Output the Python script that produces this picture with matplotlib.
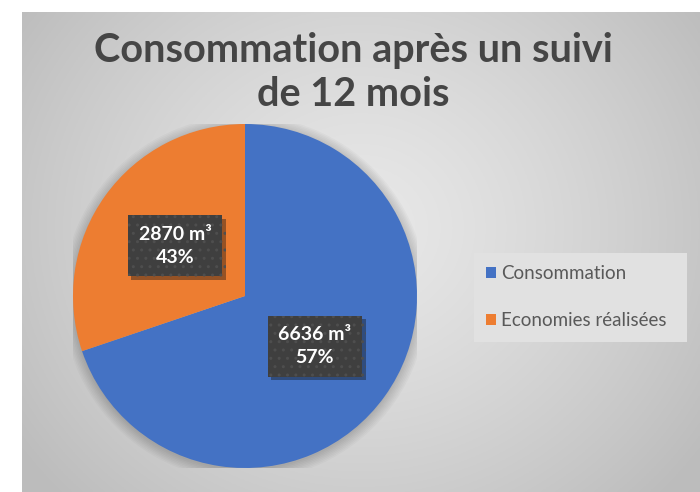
import matplotlib.pyplot as plt
import matplotlib.patheffects as pe
from matplotlib.patches import Patch, Circle
import numpy as np

plt.rcParams['font.family'] = ['Lato', 'DejaVu Sans']

# data
categories = ['Consommation', 'Economies réalisées']
volumes = [6636, 2870]
volume_labels = ['6636 m³', '2870 m³']
pct_labels = ['57%', '43%']
colors = ['#4472C4', '#ED7D31']
title = 'Consommation après un suivi\nde 12 mois'

fig = plt.figure(figsize=(7, 4.92), dpi=100)
fig.patch.set_facecolor('white')

# grey radial gradient chart area
bg = fig.add_axes([22 / 700, 0, 1 - 22 / 700, 1 - 12 / 492])
yy, xx = np.mgrid[0:1:300j, 0:1:400j]
d = np.sqrt(((xx - 0.5) * 1.3) ** 2 + ((yy - 0.55) * 1.0) ** 2)
g = 0.91 - 0.17 * np.clip(d / 0.8, 0, 1) ** 1.3
bg.imshow(np.dstack([g, g, g]), aspect='auto', extent=[0, 1, 0, 1], origin='lower')
bg.axis('off')

# pie
ax = fig.add_axes([(245 - 172) / 700, (492 - 296 - 172) / 492, 344 / 700, 344 / 492])

for r in np.linspace(1.0, 1.06, 8):
    ax.add_patch(Circle((0, -0.012), r, color='black', alpha=0.022, lw=0, zorder=0))

labels = [v + '\n' + p for v, p in zip(volume_labels, pct_labels)]
wedges, texts = ax.pie(volumes, colors=colors, startangle=90, counterclock=False,
                       labels=labels, labeldistance=0.5, radius=1.0,
                       wedgeprops=dict(linewidth=0))
ax.set_xlim(-1, 1)
ax.set_ylim(-1, 1)
ax.set_aspect('equal')
ax.axis('off')

for t in texts:
    t.set_ha('center')
    t.set_va('center')
    t.set_color('white')
    t.set_fontsize(14)
    t.set_fontweight('bold')
    t.set_linespacing(1.4)
    t.set_bbox(dict(boxstyle='square,pad=0.55', fc='#3f3f3f', ec='#4e4e4e',
                    hatch='..', lw=0))
    t.get_bbox_patch().set_path_effects([pe.withSimplePatchShadow(offset=(2.5, -2.5), alpha=0.4)])

fig.text(0.505, 1 - 32 / 492, title, ha='center', va='top', fontsize=28.5,
         fontweight='bold', color='#454545', linespacing=1.22)

handles = [Patch(facecolor=c, edgecolor='none') for c in colors]
top = 1 - 253 / 492
leg = fig.legend(handles, categories, loc='upper left',
                 bbox_to_anchor=(474 / 700, top - 0.1, 213 / 700, 0.1),
                 mode='expand', fontsize=13.5, frameon=True, fancybox=False,
                 handlelength=0.5, handleheight=0.5, handletextpad=0.3,
                 labelspacing=1.6, borderpad=0.66, borderaxespad=0)
leg.get_frame().set_facecolor('#e1e1e1')
leg.get_frame().set_edgecolor('none')
leg.get_frame().set_alpha(1)
for t in leg.get_texts():
    t.set_color('#595959')

fig.savefig('out.png', dpi=100)
